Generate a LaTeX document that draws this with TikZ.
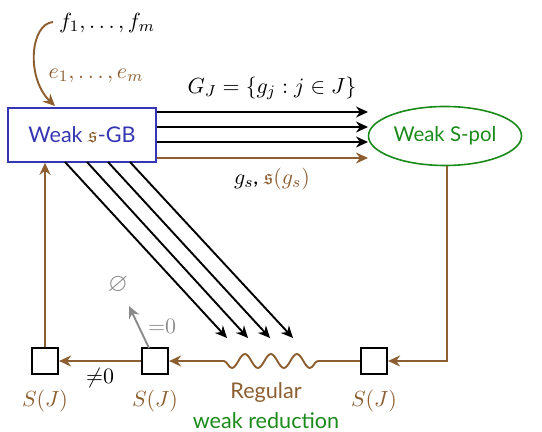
\documentclass[tikz,border=0pt]{standalone}
\usepackage{amssymb}
\usepackage{fontspec}
\setmainfont{Lato}
\usetikzlibrary{arrows.meta,shapes.geometric,decorations.pathmorphing}
\definecolor{brn}{HTML}{8C5E30}
\definecolor{grn}{HTML}{1A8A1A}
\definecolor{blu}{HTML}{3636B4}
\definecolor{gry}{HTML}{8A8A8A}
\tikzset{
  blk/.style={line width=0.95pt,-{Stealth[length=6pt,width=5.5pt]}},
  brw/.style={brn,line width=0.95pt,-{Stealth[length=6pt,width=5.5pt]}},
  sq/.style={draw,line width=1.1pt,minimum size=13pt,inner sep=0pt},
  lab/.style={inner sep=1pt,font=\fontsize{10.8}{13}\selectfont}
}
\begin{document}
\begin{tikzpicture}[x=0.5pt,y=-0.5pt]
\useasboundingbox (0,0) rectangle (542,432);
% main nodes
\node[draw=blu,line width=0.8pt,minimum width=74pt,minimum height=27pt,inner sep=0pt,text=blu,font=\fontsize{10.8}{13}\selectfont] (gb) at (82,135) {Weak {\color{brn}$\mathfrak{s}$}-GB};
\node[ellipse,draw=grn,line width=0.8pt,minimum width=76.5pt,minimum height=29.5pt,inner sep=0pt,text=grn,font=\fontsize{10.2}{12}\selectfont] (sp) at (445,136) {Weak S-pol};
% labels top
\node[lab] (f) at (107,23) {$f_1,\ldots,f_m$};
\node[lab,text=brn] (e) at (96,76) {$e_1,\ldots,e_m$};
\node[lab] (gj) at (272,88) {$G_J=\{g_j : j\in J\}$};
\node[lab] (gs) at (272,179) {$g_s$, {\color{brn}$\mathfrak{s}(g_s)$}};
% curved arrow
\coordinate (cs) at (53,22);
\coordinate (ce) at (55,106);
\draw[brw] (cs) .. controls (30,24) and (26,78) .. (ce);
% horizontal arrows
\foreach \yy/\n in {112/a,127/b,142/c}{
  \coordinate (h\n) at (368,\yy);
  \draw[blk] (gb.east |- h\n) -- (h\n);
}
\coordinate (hd) at (368,158);
\draw[brw] (gb.east |- hd) -- (hd);
% diagonal arrows
\foreach \xs/\xe/\n in {65/227/a,87/248/b,108/270/c,130/293/d}{
  \coordinate (ds\n) at (\xs,162);
  \coordinate (de\n) at (\xe,338);
  \draw[blk] (ds\n) -- (de\n);
}
% bottom squares
\node[sq] (s1) at (45,361) {};
\node[sq] (s2) at (155,361) {};
\node[sq] (s3) at (374,361) {};
\node[lab,text=brn] (l1) at (45,401) {$S(J)$};
\node[lab,text=brn] (l2) at (155,401) {$S(J)$};
\node[lab,text=brn] (l3) at (374,401) {$S(J)$};
% loop connectors
\coordinate (rc) at (447,361);
\draw[brw] (sp.south -| rc) -- (rc) -- (s3.east);
\coordinate (w1) at (318,361);
\coordinate (w2) at (213,361);
\draw[brn,line width=0.95pt] (s3.west) -- (w1);
\draw[brn,line width=0.95pt,decorate,decoration={snake,segment length=13pt,amplitude=3.5pt}] (w1) -- (w2);
\draw[brw] (w2) -- (s2.east);
\draw[brw] (s2.west) -- (s1.east);
\draw[brw] (s1.north) -- (s1.north |- gb.south);
% gray
\coordinate (gt) at (129,306);
\coordinate (gs0) at (149,348);
\draw[gry,line width=0.95pt,-{Stealth[length=6pt,width=5.5pt]}] (gs0) -- (gt);
\node[lab,text=gry] (eq) at (162,326) {${=}0$};
\node[lab,text=gry,font=\fontsize{13}{15}\selectfont] (em) at (118,285) {$\varnothing$};
\node[lab] (ne) at (100,378) {${\neq}0$};
% bottom text
\node[lab,text=brn] (reg) at (266,393) {Regular};
\node[lab,text=grn] (wr) at (266,421) {weak reduction};
\end{tikzpicture}
\end{document}
